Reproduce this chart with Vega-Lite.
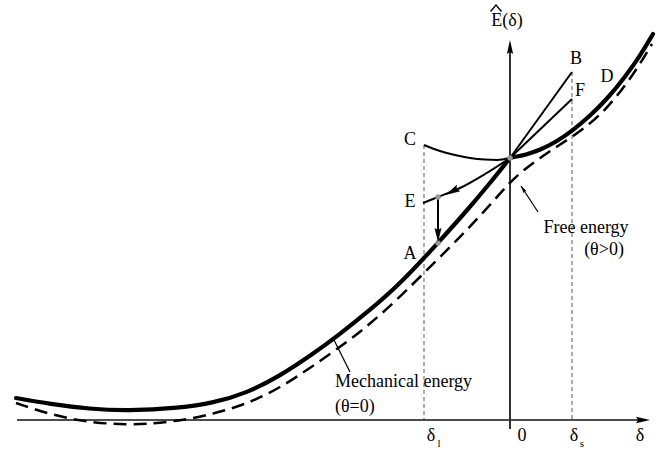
{
  "$schema": "https://vega.github.io/schema/vega-lite/v6.json",
  "width": 668,
  "height": 452,
  "autosize": {"type": "fit", "contains": "padding"},
  "padding": 0,
  "background": "white",
  "config": {"view": {"stroke": null}},
  "datasets": {
    "curves": [
      {"curve": "mechL", "x": -49.4, "y": 2.2},
      {"curve": "mechL", "x": -46, "y": 1.6},
      {"curve": "mechL", "x": -42, "y": 1.1},
      {"curve": "mechL", "x": -38.3, "y": 0.9},
      {"curve": "mechL", "x": -33, "y": 1.2},
      {"curve": "mechL", "x": -29.7, "y": 1.7},
      {"curve": "mechL", "x": -26.3, "y": 2.7},
      {"curve": "mechL", "x": -23, "y": 4.4},
      {"curve": "mechL", "x": -19.7, "y": 6.6},
      {"curve": "mechL", "x": -17, "y": 8.6},
      {"curve": "mechL", "x": -14, "y": 11},
      {"curve": "mechL", "x": -11, "y": 13.6},
      {"curve": "mechL", "x": -7.2, "y": 17.7},
      {"curve": "mechL", "x": -4, "y": 21.3},
      {"curve": "mechL", "x": -2, "y": 23.7},
      {"curve": "mechL", "x": -0.8, "y": 25.2},
      {"curve": "mechL", "x": 0, "y": 26.2},
      {"curve": "mechR", "x": 0, "y": 26.2},
      {"curve": "mechR", "x": 0.6, "y": 26.35},
      {"curve": "mechR", "x": 1.5, "y": 26.5},
      {"curve": "mechR", "x": 3, "y": 27},
      {"curve": "mechR", "x": 4.6, "y": 27.8},
      {"curve": "mechR", "x": 6.2, "y": 28.9},
      {"curve": "mechR", "x": 8, "y": 30.4},
      {"curve": "mechR", "x": 9.8, "y": 32.2},
      {"curve": "mechR", "x": 11.5, "y": 34.3},
      {"curve": "mechR", "x": 13, "y": 36.4},
      {"curve": "mechR", "x": 14.3, "y": 38.6},
      {"curve": "free", "x": -49.4, "y": 1.7},
      {"curve": "free", "x": -44.3, "y": 0},
      {"curve": "free", "x": -38.3, "y": -0.6},
      {"curve": "free", "x": -33, "y": -0.1},
      {"curve": "free", "x": -29.7, "y": 0.6},
      {"curve": "free", "x": -26.3, "y": 1.6},
      {"curve": "free", "x": -23, "y": 3.2},
      {"curve": "free", "x": -19.7, "y": 5.4},
      {"curve": "free", "x": -16.3, "y": 7.8},
      {"curve": "free", "x": -14, "y": 9.6},
      {"curve": "free", "x": -11, "y": 12.3},
      {"curve": "free", "x": -7.3, "y": 16},
      {"curve": "free", "x": -4.3, "y": 19},
      {"curve": "free", "x": -2, "y": 21.5},
      {"curve": "free", "x": 0, "y": 23.8},
      {"curve": "free", "x": 1.5, "y": 25.1},
      {"curve": "free", "x": 3, "y": 26.2},
      {"curve": "free", "x": 4.6, "y": 27.3},
      {"curve": "free", "x": 6.2, "y": 28.3},
      {"curve": "free", "x": 8, "y": 29.6},
      {"curve": "free", "x": 9.8, "y": 31.3},
      {"curve": "free", "x": 11.5, "y": 33.4},
      {"curve": "free", "x": 13, "y": 35.6},
      {"curve": "free", "x": 14.2, "y": 37.6},
      {"curve": "C", "x": -8.6, "y": 27.5},
      {"curve": "C", "x": -7, "y": 26.9},
      {"curve": "C", "x": -5.5, "y": 26.5},
      {"curve": "C", "x": -4, "y": 26.2},
      {"curve": "C", "x": -2.5, "y": 26.04},
      {"curve": "C", "x": -1.3, "y": 26},
      {"curve": "C", "x": 0, "y": 26.2},
      {"curve": "B", "x": 0, "y": 26.2},
      {"curve": "B", "x": 6.2, "y": 34.8},
      {"curve": "F", "x": 0, "y": 26.2},
      {"curve": "F", "x": 6.2, "y": 32.1},
      {"curve": "E", "x": -8.7, "y": 21.7},
      {"curve": "E", "x": -7.2, "y": 22.3},
      {"curve": "E", "x": -5, "y": 23.2},
      {"curve": "E", "x": -2.5, "y": 24.6},
      {"curve": "E", "x": 0, "y": 26.2}
    ],
    "segs": [
      {"seg": "haxis", "x": -49.3, "y": 0, "x2": 13.6, "y2": 0},
      {"seg": "vaxis", "x": 0, "y": -0.9, "x2": 0, "y2": 37.6},
      {"seg": "guide", "x": -8.6, "y": 27.5, "x2": -8.6, "y2": 0},
      {"seg": "guide", "x": 6.2, "y": 34.8, "x2": 6.2, "y2": 0},
      {"seg": "drop", "x": -7.2, "y": 22.3, "x2": -7.2, "y2": 18.8},
      {"seg": "pointer", "x": -17.6, "y": 8.0, "x2": -16, "y2": 4.8},
      {"seg": "pointer", "x": 1.1, "y": 23.4, "x2": 2.8, "y2": 20.8}
    ],
    "heads": [
      {"head": "hx", "x": 13.3, "y": 0},
      {"head": "vy", "x": 0, "y": 37.3},
      {"head": "down", "x": -7.2, "y": 18.5},
      {"head": "eline", "x": -5.8, "y": 22.85},
      {"head": "free", "x": 1.3, "y": 23.1}
    ],
    "dots": [
      {"x": -7.2, "y": 22.3},
      {"x": -7.2, "y": 17.7},
      {"x": 0, "y": 26.2}
    ],
    "hat": [
      {"x": -1.95, "y": 40.85},
      {"x": -1.4, "y": 41.5},
      {"x": -0.85, "y": 40.85}
    ],
    "labels": [
      {"t": "C", "x": -10, "y": 28},
      {"t": "E", "x": -10, "y": 21.8},
      {"t": "A", "x": -10, "y": 16.6},
      {"t": "B", "x": 6.6, "y": 36.1},
      {"t": "F", "x": 7, "y": 32.9},
      {"t": "D", "x": 9.7, "y": 34.3},
      {"t": "Free energy", "x": 7.6, "y": 19.2},
      {"t": "(θ>0)", "x": 9.4, "y": 17},
      {"t": "0", "x": 1.2, "y": -1.6},
      {"t": "δ", "x": -7.9, "y": -1.6},
      {"t": "δ", "x": 6.4, "y": -1.6},
      {"t": "δ", "x": 13, "y": -1.6},
      {"t": "E(δ)", "x": -0.3, "y": 39.9}
    ],
    "leftlabels": [
      {"t": "Mechanical energy", "x": -17.5, "y": 3.8},
      {"t": "(θ=0)", "x": -17.5, "y": 1.3}
    ],
    "subs": [
      {"t": "l", "x": -7.1, "y": -2.4},
      {"t": "s", "x": 7.2, "y": -2.4}
    ]
  },
  "encoding": {
    "x": {"field": "x", "type": "quantitative", "scale": {"domain": [-51, 15.8], "nice": false, "zero": false}, "axis": null},
    "y": {"field": "y", "type": "quantitative", "scale": {"domain": [-3.2, 42], "nice": false, "zero": false}, "axis": null}
  },
  "layer": [
    {
      "data": {"name": "segs"},
      "transform": [{"filter": "datum.seg === 'guide'"}],
      "mark": {"type": "rule", "color": "#777", "strokeWidth": 1.2, "strokeDash": [4, 3]},
      "encoding": {"x2": {"field": "x2"}, "y2": {"field": "y2"}}
    },
    {
      "data": {"name": "segs"},
      "transform": [{"filter": "datum.seg === 'haxis'"}],
      "mark": {"type": "rule", "color": "#111", "strokeWidth": 1.5},
      "encoding": {"x2": {"field": "x2"}, "y2": {"field": "y2"}}
    },
    {
      "data": {"name": "segs"},
      "transform": [{"filter": "datum.seg === 'vaxis'"}],
      "mark": {"type": "rule", "color": "#333", "strokeWidth": 2},
      "encoding": {"x2": {"field": "x2"}, "y2": {"field": "y2"}}
    },
    {
      "data": {"name": "segs"},
      "transform": [{"filter": "datum.seg === 'drop'"}],
      "mark": {"type": "rule", "color": "#000", "strokeWidth": 2},
      "encoding": {"x2": {"field": "x2"}, "y2": {"field": "y2"}}
    },
    {
      "data": {"name": "segs"},
      "transform": [{"filter": "datum.seg === 'pointer'"}],
      "mark": {"type": "rule", "color": "#000", "strokeWidth": 1.2},
      "encoding": {"x2": {"field": "x2"}, "y2": {"field": "y2"}}
    },
    {
      "data": {"name": "curves"},
      "transform": [{"filter": "datum.curve === 'free'"}],
      "mark": {"type": "line", "color": "#000", "strokeWidth": 2.5, "strokeDash": [13, 7], "interpolate": "basis"},
      "encoding": {}
    },
    {
      "data": {"name": "curves"},
      "transform": [{"filter": "datum.curve === 'mechL' || datum.curve === 'mechR'"}],
      "mark": {"type": "line", "color": "#000", "strokeWidth": 4.2, "interpolate": "basis", "strokeCap": "round"},
      "encoding": {"detail": {"field": "curve"}}
    },
    {
      "data": {"name": "curves"},
      "transform": [{"filter": "datum.curve === 'C' || datum.curve === 'B' || datum.curve === 'F' || datum.curve === 'E'"}],
      "mark": {"type": "line", "color": "#000", "strokeWidth": 2, "interpolate": "monotone"},
      "encoding": {"detail": {"field": "curve"}}
    },
    {
      "data": {"name": "hat"},
      "mark": {"type": "line", "color": "#000", "strokeWidth": 1.4},
      "encoding": {}
    },
    {
      "data": {"name": "dots"},
      "mark": {"type": "point", "shape": "circle", "filled": true, "color": "#999", "size": 30, "opacity": 1},
      "encoding": {}
    },
    {
      "data": {"name": "heads"},
      "transform": [{"filter": "datum.head === 'hx'"}],
      "mark": {"type": "point", "shape": "M-1,-0.45L1,0L-1,0.45L-0.7,0Z", "filled": true, "color": "#000", "size": 196, "opacity": 1},
      "encoding": {}
    },
    {
      "data": {"name": "heads"},
      "transform": [{"filter": "datum.head === 'vy'"}],
      "mark": {"type": "point", "shape": "M-0.45,1L0,-1L0.45,1L0,0.7Z", "filled": true, "color": "#000", "size": 196, "opacity": 1},
      "encoding": {}
    },
    {
      "data": {"name": "heads"},
      "transform": [{"filter": "datum.head === 'down'"}],
      "mark": {"type": "point", "shape": "M-0.5,-1L0,1L0.5,-1L0,-0.7Z", "filled": true, "color": "#000", "size": 196, "opacity": 1},
      "encoding": {}
    },
    {
      "data": {"name": "heads"},
      "transform": [{"filter": "datum.head === 'eline'"}],
      "mark": {"type": "point", "shape": "M-1,-0.5L1,0L-1,0.5L-0.7,0Z", "angle": 152, "filled": true, "color": "#000", "size": 225, "opacity": 1},
      "encoding": {}
    },
    {
      "data": {"name": "heads"},
      "transform": [{"filter": "datum.head === 'free'"}],
      "mark": {"type": "point", "shape": "M-1,-0.45L1,0L-1,0.45L-0.7,0Z", "angle": 237, "filled": true, "color": "#000", "size": 64, "opacity": 1},
      "encoding": {}
    },
    {
      "data": {"name": "labels"},
      "mark": {"type": "text", "font": "Liberation Serif", "fontSize": 18, "color": "#000", "align": "center", "baseline": "middle"},
      "encoding": {"text": {"field": "t"}}
    },
    {
      "data": {"name": "leftlabels"},
      "mark": {"type": "text", "font": "Liberation Serif", "fontSize": 18, "color": "#000", "align": "left", "baseline": "middle"},
      "encoding": {"text": {"field": "t"}}
    },
    {
      "data": {"name": "subs"},
      "mark": {"type": "text", "font": "Liberation Serif", "fontSize": 11, "color": "#000", "align": "center", "baseline": "middle"},
      "encoding": {"text": {"field": "t"}}
    }
  ]
}
